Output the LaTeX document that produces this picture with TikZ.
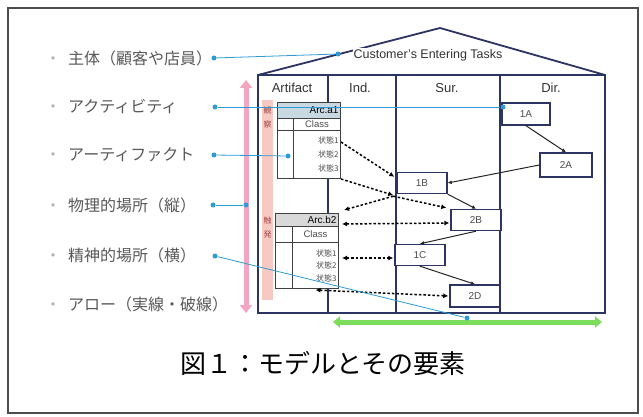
\documentclass[tikz,border=0pt]{standalone}
\usepackage{fontspec}
\setmainfont{Liberation Sans}
\newfontfamily\jp{Noto Sans CJK JP}
\usetikzlibrary{arrows.meta,calc}
\definecolor{navy}{HTML}{2B3463}
\definecolor{cblue}{HTML}{2E9BD6}
\definecolor{pinkA}{HTML}{F2A6C2}
\definecolor{greenA}{HTML}{7CDD5C}
\definecolor{salmon}{HTML}{F8C8C2}
\definecolor{titleA}{HTML}{C9D9E2}
\definecolor{titleB}{HTML}{D9D9D9}
\definecolor{redtxt}{HTML}{A04848}
\begin{document}
\begin{tikzpicture}[x=1pt,y=-1pt,
  wall/.style={draw=navy,line width=1.8pt},
  taskbox/.style={draw=navy,line width=1.4pt,fill=white,minimum width=50pt,minimum height=21pt,inner sep=0pt,font=\fontsize{10}{11}\selectfont,text=black!70},
  arccell/.style={draw=black!75,line width=1pt,fill=white,inner sep=0pt,anchor=north west},
  dasharrow/.style={black,line width=1.5pt,dash pattern=on 2.5pt off 2pt,-{Latex[length=5pt,width=5pt]}},
  dashboth/.style={black,line width=1.5pt,dash pattern=on 2.5pt off 2pt,{Latex[length=5pt,width=5pt]}-{Latex[length=5pt,width=5pt]}},
  solidarrow/.style={black!85,line width=1pt,-{Latex[length=4pt,width=4pt]}},
  bluelink/.style={cblue,line width=0.8pt},
  bluedot/.style={circle,fill=cblue,inner sep=0pt,minimum size=5pt},
  leftlabel/.style={anchor=west,font=\jp\fontsize{16}{17}\selectfont,text=black!65,inner sep=0pt},
  header/.style={font=\fontsize{13}{14}\selectfont,text=black!80},
  vchar/.style={font=\jp\fontsize{8}{8}\selectfont,text=redtxt,inner sep=0pt}
]
\useasboundingbox (0,0) rectangle (643,417);
\fill[white] (0,0) rectangle (643,417);
\draw[black!70,line width=2pt] (8,8) rectangle (638,413);

% left labels
\node[leftlabel] (lb1) at (45,58) {\textcolor{black!30}{・}\hspace{7pt}主体（顧客や店員）};
\node[leftlabel] (lb2) at (45,107) {\textcolor{black!30}{・}\hspace{7pt}アクティビティ};
\node[leftlabel] (lb3) at (45,155) {\textcolor{black!30}{・}\hspace{7pt}アーティファクト};
\node[leftlabel] (lb4) at (45,205) {\textcolor{black!30}{・}\hspace{7pt}物理的場所（縦）};
\node[leftlabel] (lb5) at (45,255) {\textcolor{black!30}{・}\hspace{7pt}精神的場所（横）};
\node[leftlabel] (lb6) at (45,304) {\textcolor{black!30}{・}\hspace{7pt}アロー（実線・破線）};

% pink vertical arrow and salmon bar
\coordinate (pt) at (246,80);
\coordinate (pb) at (246,313);
\draw[pinkA,line width=5pt,{Triangle[length=8pt,width=12pt]}-{Triangle[length=8pt,width=12pt]}] (pt) -- (pb);
\fill[salmon] (262,100) rectangle (273,300);

% house
\coordinate (apex) at (440,28);
\coordinate (hl) at (258,75);
\coordinate (hr) at (605,75);
\draw[wall] (hl) -- (apex) -- (hr);
\draw[wall] (hl) -- (hr) -- (605,313) -- (258,313) -- cycle;
\draw[wall] (328,75) -- (328,313);
\draw[wall] (396,75) -- (396,313);
\draw[wall] (500,75) -- (500,313);
\node[header] (hA) at (292,88) {Artifact};
\node[header] (hI) at (360,88) {Ind.};
\node[header] (hS) at (447,88) {Sur.};
\node[header] (hD) at (551,88) {Dir.};
\node[fill=white,inner sep=1pt,font=\fontsize{12.5}{13}\selectfont,text=black!80] (cet) at (428,55) {Customer’s Entering Tasks};

% green arrow
\coordinate (gl) at (333,322);
\coordinate (gr) at (602,322);
\draw[greenA,line width=5pt,{Triangle[length=7pt,width=11pt]}-{Triangle[length=7pt,width=11pt]}] (gl) -- (gr);

% vertical chars in salmon bar
\node[vchar] (v1) at (267.5,110) {観};
\node[vchar] (v2) at (267.5,124) {察};
\node[vchar] (v3) at (267.5,220) {触};
\node[vchar] (v4) at (267.5,234) {発};

% Arc.a1
\node[arccell,fill=titleA,minimum width=63pt,minimum height=16pt,text width=59pt,inner xsep=2pt,align=right,font=\fontsize{10}{11}\selectfont] (a1t) at (277,102) {Arc.a1};
\node[arccell,minimum width=16pt,minimum height=12pt] (a1l) at (277,118) {};
\node[arccell,minimum width=47pt,minimum height=12pt,font=\fontsize{9.5}{10}\selectfont,text=black!70] (a1c) at (293,118) {Class};
\node[arccell,minimum width=16pt,minimum height=48pt] (a1sl) at (277,130) {};
\node[arccell,minimum width=47pt,minimum height=48pt,text width=43pt,inner xsep=2pt,align=right,font=\jp\fontsize{8}{14}\selectfont,text=black!70] (a1s) at (293,130) {状態1\\状態2\\状態3};

% Arc.b2
\node[arccell,fill=titleB,minimum width=63pt,minimum height=13pt,text width=59pt,inner xsep=2pt,align=right,font=\fontsize{10}{11}\selectfont] (b2t) at (275,213) {Arc.b2};
\node[arccell,minimum width=17pt,minimum height=16pt] (b2l) at (275,226) {};
\node[arccell,minimum width=46pt,minimum height=16pt,font=\fontsize{9.5}{10}\selectfont,text=black!70] (b2c) at (292,226) {Class};
\node[arccell,minimum width=17pt,minimum height=46pt] (b2sl) at (275,242) {};
\node[arccell,minimum width=46pt,minimum height=46pt,text width=42pt,inner xsep=2pt,align=right,font=\jp\fontsize{8}{12.5}\selectfont,text=black!70] (b2s) at (292,242) {状態1\\状態2\\状態3};

% task boxes
\node[taskbox,minimum width=48pt,minimum height=22pt] (t1A) at (526,114) {1A};
\node[taskbox,minimum width=52pt,minimum height=24pt] (t2A) at (566,165) {2A};
\node[taskbox] (t1B) at (422,183) {1B};
\node[taskbox] (t2B) at (476,220) {2B};
\node[taskbox] (t1C) at (420,255) {1C};
\node[taskbox,minimum height=22pt] (t2D) at (475,296) {2D};

% solid arrows
\draw[solidarrow] (t1A.south) -- (t2A.north);
\draw[solidarrow] (t2A.west) -- (t1B.east);
\draw[solidarrow] (t1B.south east) -- (t2B.north);
\draw[solidarrow] (t2B.south) -- (t1C.north);
\draw[solidarrow] (t1C.south) -- (t2D.north);

% dashed arrows
\coordinate (d1s) at ($(a1s.north east)+(0,12)$);
\coordinate (d1e) at ($(t1B.north west)+(-2,5)$);
\draw[dasharrow] (d1s) -- (d1e);
\coordinate (d2e) at ($(t1B.south west)+(-3,1)$);
\draw[dasharrow] (a1s.south east) -- (d2e);
\coordinate (d3s) at ($(t1B.south west)+(-3,2)$);
\coordinate (d3e) at ($(b2t.north east)+(5,-3)$);
\draw[dasharrow] (d3s) -- (d3e);
\coordinate (d4e) at ($(t2B.north west)+(-4,-1)$);
\draw[dasharrow] (d3s) -- (d4e);
\coordinate (d5s) at ($(b2t.south east)+(3,-3)$);
\coordinate (d5e) at ($(t2B.west)+(-1,3)$);
\draw[dashboth] (d5s) -- (d5e);
\coordinate (d6s) at ($(b2s.north east)+(3,16)$);
\coordinate (d6e) at ($(t1C.west)+(-1,3)$);
\draw[dashboth] (d6s) -- (d6e);
\coordinate (d7s) at ($(b2s.south)+(0,1)$);
\coordinate (d7e) at ($(t2D.west)+(-1,0)$);
\draw[dashboth] (d7s) -- (d7e);

% blue links
\node[bluedot] (bd1) at (214,58) {};
\node[bluedot] (bt1) at (338,54) {};
\draw[bluelink] (bd1) -- (bt1);
\node[bluedot] (bd2) at (215,107) {};
\node[bluedot] (bt2) at (503,107) {};
\draw[bluelink] (bd2) -- (bt2);
\node[bluedot] (bd3) at (214,155) {};
\node[bluedot] (bt3) at (288,156) {};
\draw[bluelink] (bd3) -- (bt3);
\node[bluedot] (bd4) at (213,205) {};
\node[bluedot] (bt4) at (246,205) {};
\draw[bluelink] (bd4) -- (bt4);
\node[bluedot] (bd5) at (215,256) {};
\node[bluedot] (bt5) at (467,318) {};
\draw[bluelink] (bd5) -- (bt5);

% caption
\node[anchor=west,font=\jp\fontsize{26}{28}\selectfont,inner sep=0pt] (cap) at (180,363) {図１：モデルとその要素};
\end{tikzpicture}
\end{document}
